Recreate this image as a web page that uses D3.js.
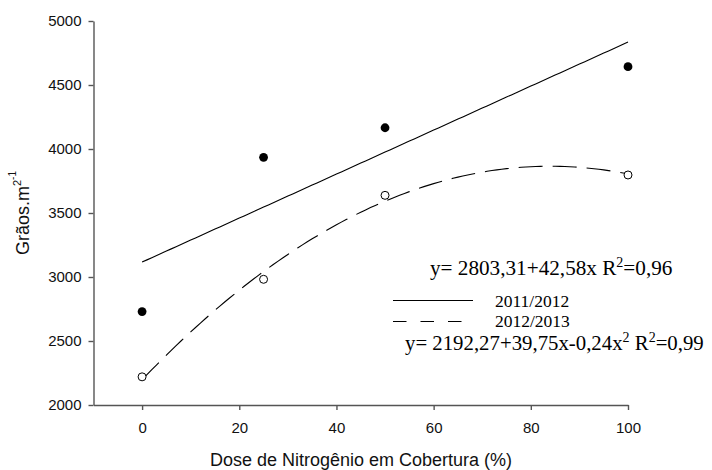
<!DOCTYPE html>
<html>
<head>
<meta charset="utf-8">
<script src="https://cdn.jsdelivr.net/npm/d3@7/dist/d3.min.js"></script>
<style>
  html, body { margin: 0; padding: 0; background: #fff; }
  svg { display: block; }
  .axis text { font-family: Arial, "Liberation Sans", sans-serif; font-size: 15px; fill: #111; }
  .axis path, .axis line { stroke: #555; stroke-width: 1.4px; }
</style>
</head>
<body>
<svg id="chart" width="712" height="470"></svg>
<script>
// Nitrogen dose applied as top dressing (%)
const doses = [0, 25, 50, 100];
// Grains per m² for each season
const season1 = [2730, 3935, 4166, 4643];   // 2011/2012
const season2 = [2220, 2982, 3638, 3797];   // 2012/2013
const seasonNames = ["2011/2012", "2012/2013"];
const xTicks = [0, 20, 40, 60, 80, 100];
const yTicks = [2000, 2500, 3000, 3500, 4000, 4500, 5000];
const eq1 = "y= 2803,31+42,58x R";
const eq2 = "y= 2192,27+39,75x-0,24x";

const svg = d3.select("#chart");

const x = d3.scaleLinear().domain([-10, 100]).range([93.5, 628]);
const y = d3.scaleLinear().domain([2000, 5000]).range([405, 21]);

// Least-squares polynomial fit (normal equations, Gaussian elimination)
function polyfit(xs, ys, deg) {
  const n = deg + 1;
  const A = Array.from({length: n}, () => new Array(n + 1).fill(0));
  for (let r = 0; r < n; r++) {
    for (let c = 0; c < n; c++) A[r][c] = d3.sum(xs, v => Math.pow(v, r + c));
    A[r][n] = d3.sum(xs, (v, i) => ys[i] * Math.pow(v, r));
  }
  for (let i = 0; i < n; i++) {
    let p = i;
    for (let k = i + 1; k < n; k++) if (Math.abs(A[k][i]) > Math.abs(A[p][i])) p = k;
    [A[i], A[p]] = [A[p], A[i]];
    for (let k = i + 1; k < n; k++) {
      const f = A[k][i] / A[i][i];
      for (let c = i; c <= n; c++) A[k][c] -= f * A[i][c];
    }
  }
  const coef = new Array(n).fill(0);
  for (let i = n - 1; i >= 0; i--) {
    let s = A[i][n];
    for (let c = i + 1; c < n; c++) s -= A[i][c] * coef[c];
    coef[i] = s / A[i][i];
  }
  return v => coef.reduce((acc, c, i) => acc + c * Math.pow(v, i), 0);
}

const fit1 = polyfit(doses, season1, 1);
const fit2 = polyfit(doses, season2, 2);
const xs = d3.range(0, 100.01, 1);

// Axes
svg.append("g").attr("class", "axis")
  .attr("transform", "translate(0,405)")
  .call(d3.axisBottom(x).tickValues(xTicks).tickFormat(d3.format("d"))
    .tickSize(5).tickSizeOuter(0).tickPadding(12.5));

svg.append("g").attr("class", "axis")
  .attr("transform", "translate(93.5,0)")
  .call(d3.axisLeft(y).tickValues(yTicks).tickFormat(d3.format("d"))
    .tickSize(5).tickSizeOuter(0).tickPadding(7));

// Trend lines
const line = d3.line().x(d => x(d[0])).y(d => y(d[1]));
svg.append("path")
  .attr("d", line(xs.map(v => [v, fit1(v)])))
  .attr("fill", "none").attr("stroke", "#000").attr("stroke-width", 1.1);
svg.append("path")
  .attr("d", line(xs.map(v => [v, fit2(v)])))
  .attr("fill", "none").attr("stroke", "#000").attr("stroke-width", 1.1)
  .attr("stroke-dasharray", "24,10");

// Observed points
svg.append("g").selectAll("circle")
  .data(doses.map((d, i) => [d, season1[i]]))
  .join("circle")
  .attr("cx", d => x(d[0])).attr("cy", d => y(d[1])).attr("r", 4.4)
  .attr("fill", "#000");
svg.append("g").selectAll("circle")
  .data(doses.map((d, i) => [d, season2[i]]))
  .join("circle")
  .attr("cx", d => x(d[0])).attr("cy", d => y(d[1])).attr("r", 4)
  .attr("fill", "#fff").attr("stroke", "#000").attr("stroke-width", 1);

// Axis titles
svg.append("text")
  .attr("x", 361).attr("y", 466)
  .attr("text-anchor", "middle")
  .style("font-family", "Arial, 'Liberation Sans', sans-serif")
  .style("font-size", "18px").attr("fill", "#111")
  .text("Dose de Nitrogênio em Cobertura (%)");

const yt = svg.append("text")
  .attr("transform", "translate(29,213) rotate(-90)")
  .attr("text-anchor", "middle")
  .style("font-family", "Arial, 'Liberation Sans', sans-serif")
  .style("font-size", "18px").attr("fill", "#111");
yt.append("tspan").text("Grãos.m");
yt.append("tspan").attr("dy", -8).style("font-size", "11px").text("2");
yt.append("tspan").attr("dy", -5).style("font-size", "10px").text("-1");

// Legend
const serif = "'Times New Roman', 'Liberation Serif', serif";
svg.append("line").attr("x1", 393).attr("x2", 473).attr("y1", 300.5).attr("y2", 300.5)
  .attr("stroke", "#000").attr("stroke-width", 1.1);
svg.append("line").attr("x1", 393).attr("x2", 463).attr("y1", 321.5).attr("y2", 321.5)
  .attr("stroke", "#000").attr("stroke-width", 1.1).attr("stroke-dasharray", "13.5,14");
svg.append("text").attr("x", 495).attr("y", 306.5)
  .style("font-family", serif).style("font-size", "17.5px").text(seasonNames[0]);
svg.append("text").attr("x", 495).attr("y", 327)
  .style("font-family", serif).style("font-size", "17.5px").text(seasonNames[1]);

// Regression equations
const t1 = svg.append("text").attr("x", 430).attr("y", 275)
  .style("font-family", serif).style("font-size", "21.2px");
t1.append("tspan").text(eq1);
t1.append("tspan").attr("dy", -8).style("font-size", "14px").text("2");
t1.append("tspan").attr("dy", 8).text("=0,96");

const t2 = svg.append("text").attr("x", 405).attr("y", 349.5)
  .style("font-family", serif).style("font-size", "20.8px");
t2.append("tspan").text(eq2);
t2.append("tspan").attr("dy", -8).style("font-size", "14px").text("2");
t2.append("tspan").attr("dy", 8).text(" R");
t2.append("tspan").attr("dy", -8).style("font-size", "14px").text("2");
t2.append("tspan").attr("dy", 8).text("=0,99");
</script>
</body>
</html>
